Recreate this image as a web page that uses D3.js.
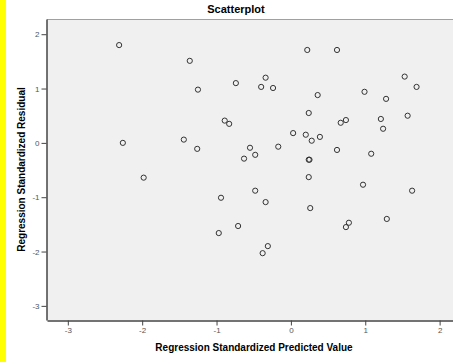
<!DOCTYPE html>
<html>
<head>
<meta charset="utf-8">
<script src="https://cdn.jsdelivr.net/npm/d3@7"></script>
<style>
  body { margin: 0; background: #fff; }
  svg { display: block; font-family: "Liberation Sans", Arial, sans-serif; }
</style>
</head>
<body>
<div id="chart"></div>
<script>
// predicted (x) and residual (y)
var predicted = [-2.31, -1.36, -1.25, -0.74, -0.34, -0.40, -0.24, 0.22, 0.62, 1.53, 1.69, 0.36, 0.99,
  1.28, 0.24, 0.67, 0.74, 1.21, 1.24, 1.57, -0.89, -0.83, 0.03, 0.20, 0.28, 0.39, -1.44, -1.26,
  -0.55, -0.48, -0.63, -0.17, 0.62, 1.08, 0.24, 0.25, 0.24, -2.26, -1.98, -0.48, -0.94, -0.34,
  0.26, -0.71, -0.97, -0.31, -0.38, 0.74, 0.78, 1.29, 0.97, 1.63];
var residual = [1.80, 1.51, 0.98, 1.10, 1.20, 1.03, 1.01, 1.71, 1.71, 1.22, 1.03, 0.88, 0.94,
  0.81, 0.55, 0.37, 0.42, 0.44, 0.26, 0.50, 0.41, 0.35, 0.18, 0.15, 0.04, 0.11, 0.06, -0.11,
  -0.09, -0.22, -0.29, -0.07, -0.13, -0.20, -0.31, -0.31, -0.63, 0.00, -0.64, -0.88, -1.01, -1.09,
  -1.20, -1.53, -1.66, -1.90, -2.03, -1.55, -1.47, -1.40, -0.77, -0.88];
var xTicks = [-3, -2, -1, 0, 1, 2];
var yTicks = [-3, -2, -1, 0, 1, 2];

var width = 453, height = 362;
var plotLeft = 47, plotRight = 453, plotTop = 19, plotBottom = 320;

var svg = d3.select("#chart").append("svg")
  .attr("width", width)
  .attr("height", height);

// yellow strip on the left edge
svg.append("rect").attr("x", 0).attr("y", 0).attr("width", 6).attr("height", height).attr("fill", "#ffff00");

var x = d3.scaleLinear().domain([-3.28, 2.18]).range([plotLeft, plotRight]);
var y = d3.scaleLinear().domain([2.28, -3.26]).range([plotTop, plotBottom]);

svg.append("rect")
  .attr("x", plotLeft).attr("y", plotTop)
  .attr("width", plotRight - plotLeft).attr("height", plotBottom - plotTop)
  .attr("fill", "#f0f0f0");

// top border
svg.append("line")
  .attr("x1", plotLeft).attr("x2", plotRight).attr("y1", plotTop + 0.5).attr("y2", plotTop + 0.5)
  .attr("stroke", "#a0a0a0");

var xAxis = svg.append("g")
  .attr("transform", "translate(0," + (plotBottom + 0.5) + ")")
  .call(d3.axisBottom(x).tickValues(xTicks).tickSize(5).tickSizeOuter(0).tickPadding(2).tickFormat(d3.format("d")));
var yAxis = svg.append("g")
  .attr("transform", "translate(" + (plotLeft - 0.5) + ",0)")
  .call(d3.axisLeft(y).tickValues(yTicks).tickSize(5).tickSizeOuter(0).tickPadding(2).tickFormat(d3.format("d")));

[xAxis, yAxis].forEach(function(a) {
  a.select(".domain").attr("stroke", "#444").attr("stroke-width", 1.5);
  a.selectAll(".tick line").attr("stroke", "#444");
  a.selectAll(".tick text").attr("fill", "#555").style("font-size", "8px")
    .style("font-family", "'Liberation Sans', Arial, sans-serif");
});
// SPSS draws minus as a hyphen
xAxis.selectAll(".tick text").text(function(d) { return String(d); });
yAxis.selectAll(".tick text").text(function(d) { return String(d); });

var points = predicted.map(function(p, i) { return { x: p, y: residual[i] }; });

svg.append("g").selectAll("circle")
  .data(points)
  .enter().append("circle")
  .attr("cx", function(d) { return x(d.x); })
  .attr("cy", function(d) { return y(d.y); })
  .attr("r", 2.6)
  .attr("fill", "none")
  .attr("stroke", "#333")
  .attr("stroke-width", 1);

svg.append("text")
  .attr("x", 236).attr("y", 13)
  .attr("text-anchor", "middle")
  .style("font-size", "11px").style("font-weight", "bold")
  .text("Scatterplot");

svg.append("text")
  .attr("x", 254).attr("y", 351)
  .attr("text-anchor", "middle")
  .style("font-size", "10px").style("font-weight", "bold")
  .text("Regression Standardized Predicted Value");

svg.append("text")
  .attr("transform", "translate(25," + ((plotTop + plotBottom) / 2) + ") rotate(-90)")
  .attr("text-anchor", "middle")
  .style("font-size", "10px").style("font-weight", "bold")
  .text("Regression Standardized Residual");
</script>
</body>
</html>
